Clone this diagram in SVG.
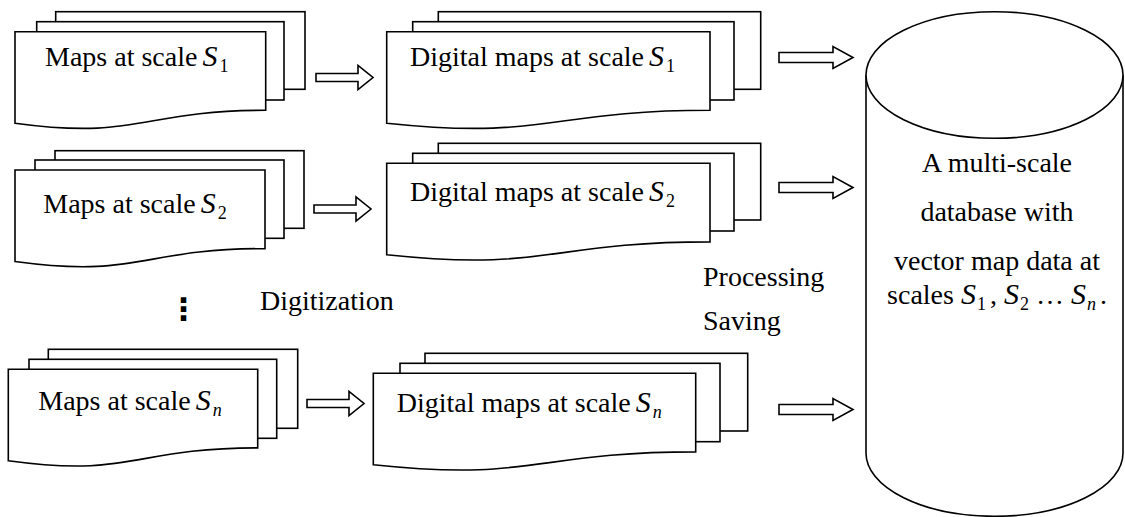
<svg xmlns="http://www.w3.org/2000/svg" xmlns:xlink="http://www.w3.org/1999/xlink" width="1125" height="517" viewBox="0 0 1125 517">
<style>
.sh{fill:#fff;stroke:#000;stroke-width:1.6;stroke-linejoin:miter}
.ar{fill:#fff;stroke:#000;stroke-width:1.6;stroke-linejoin:miter}
.t{font-family:"Liberation Serif","Times New Roman",serif;font-size:28px;fill:#000}
.s{font-style:italic;font-size:30px}
.sub{font-size:18px}
.it{font-style:italic}
</style>
<defs>
<path id="sa" d="M0,-4 H42 V-12 L57,0 L42,12 V4 H0 Z"/>
<path id="ra" d="M0,-5 H54 V-11 L74,0 L54,11 V5 H0 Z"/>
</defs>
<rect width="1125" height="517" fill="#fff"/>

<g id="maps-s1">
<rect class="sh" x="55.7" y="11.7" width="249.3" height="77.6"/>
<rect class="sh" x="36.7" y="21.7" width="247.3" height="78.3"/>
<path class="sh" d="M15,31.7 H265.7 V110.3 C140.3,110.3 140.3,140.2 15,123.2 Z"/>
<text class="t" x="45" y="66">Maps at scale<tspan class="s" dx="5">S</tspan><tspan class="sub" dx="2" dy="6">1</tspan></text>
</g>

<g id="maps-s2">
<rect class="sh" x="55" y="150.7" width="249" height="77.6"/>
<rect class="sh" x="35" y="160" width="249" height="78.3"/>
<path class="sh" d="M15,170 H265 V248.6 C140,248.6 140,278.5 15,261.5 Z"/>
<text class="t" x="43.3" y="213">Maps at scale<tspan class="s" dx="5">S</tspan><tspan class="sub" dx="2" dy="6">2</tspan></text>
</g>

<g id="maps-sn">
<rect class="sh" x="48.3" y="349.3" width="249.4" height="79"/>
<rect class="sh" x="29" y="359.3" width="247.7" height="79"/>
<path class="sh" d="M8.3,369.3 H257.7 V447.9 C133,447.9 133,477.8 8.3,460.8 Z"/>
<text class="t" x="38.3" y="410">Maps at scale<tspan class="s" dx="5">S</tspan><tspan class="sub it" dx="2" dy="6">n</tspan></text>
</g>

<g id="digital-s1">
<rect class="sh" x="438.3" y="11.7" width="322.4" height="77.6"/>
<rect class="sh" x="412.7" y="21.7" width="321.3" height="78.3"/>
<path class="sh" d="M386.7,31.7 H710 V110.3 C548.3,110.3 548.3,140.2 386.7,123.2 Z"/>
<text class="t" x="410" y="66">Digital maps at scale<tspan class="s" dx="5">S</tspan><tspan class="sub" dx="2" dy="6">1</tspan></text>
</g>

<g id="digital-s2">
<rect class="sh" x="438.3" y="143.3" width="322.4" height="76.7"/>
<rect class="sh" x="412.7" y="153.3" width="321.3" height="77.7"/>
<path class="sh" d="M386.7,163.3 H710 V241.9 C548.3,241.9 548.3,271.8 386.7,254.8 Z"/>
<text class="t" x="410" y="201">Digital maps at scale<tspan class="s" dx="5">S</tspan><tspan class="sub" dx="2" dy="6">2</tspan></text>
</g>

<g id="digital-sn">
<rect class="sh" x="425" y="353.3" width="322.7" height="77.7"/>
<rect class="sh" x="400" y="363.3" width="320" height="78.4"/>
<path class="sh" d="M373.3,373.3 H695.7 V451.9 C534.5,451.9 534.5,481.8 373.3,464.8 Z"/>
<text class="t" x="396.7" y="412">Digital maps at scale<tspan class="s" dx="5">S</tspan><tspan class="sub it" dx="2" dy="6">n</tspan></text>
</g>

<g id="database">
<path class="sh" d="M866,75 V453 A128.5,63.3 0 0 0 1123,453 V75"/>
<ellipse class="sh" cx="994.5" cy="75" rx="128.5" ry="63.3"/>
<text class="t" text-anchor="middle" x="997" y="172">A multi-scale</text>
<text class="t" text-anchor="middle" x="997" y="221">database with</text>
<text class="t" text-anchor="middle" x="997" y="270">vector map data at</text>
<text class="t" text-anchor="middle" x="997" y="304">scales <tspan class="s">S</tspan><tspan class="sub" dx="1" dy="6">1</tspan><tspan dx="4" dy="-6">, </tspan><tspan class="s">S</tspan><tspan class="sub" dx="1" dy="6">2</tspan><tspan dy="-6"> … </tspan><tspan class="s">S</tspan><tspan class="sub it" dx="1" dy="6">n</tspan><tspan dx="4" dy="-6">.</tspan></text>
</g>

<g id="labels">
<text class="t" x="168" y="320" style="font-family:'DejaVu Sans',sans-serif;font-weight:bold;font-size:31px">⋮</text>
<text class="t" x="260" y="310">Digitization</text>
<text class="t" x="703" y="286">Processing</text>
<text class="t" x="703" y="330">Saving</text>
</g>

<g id="connectors">
<use class="ar" xlink:href="#sa" href="#sa" x="316" y="77.5"/>
<use class="ar" xlink:href="#sa" href="#sa" x="314" y="209"/>
<use class="ar" xlink:href="#sa" href="#sa" x="307" y="403.5"/>
<use class="ar" xlink:href="#ra" href="#ra" x="779" y="57.5"/>
<use class="ar" xlink:href="#ra" href="#ra" x="779" y="187.5"/>
<use class="ar" xlink:href="#ra" href="#ra" x="779" y="409.5"/>
</g>
</svg>
